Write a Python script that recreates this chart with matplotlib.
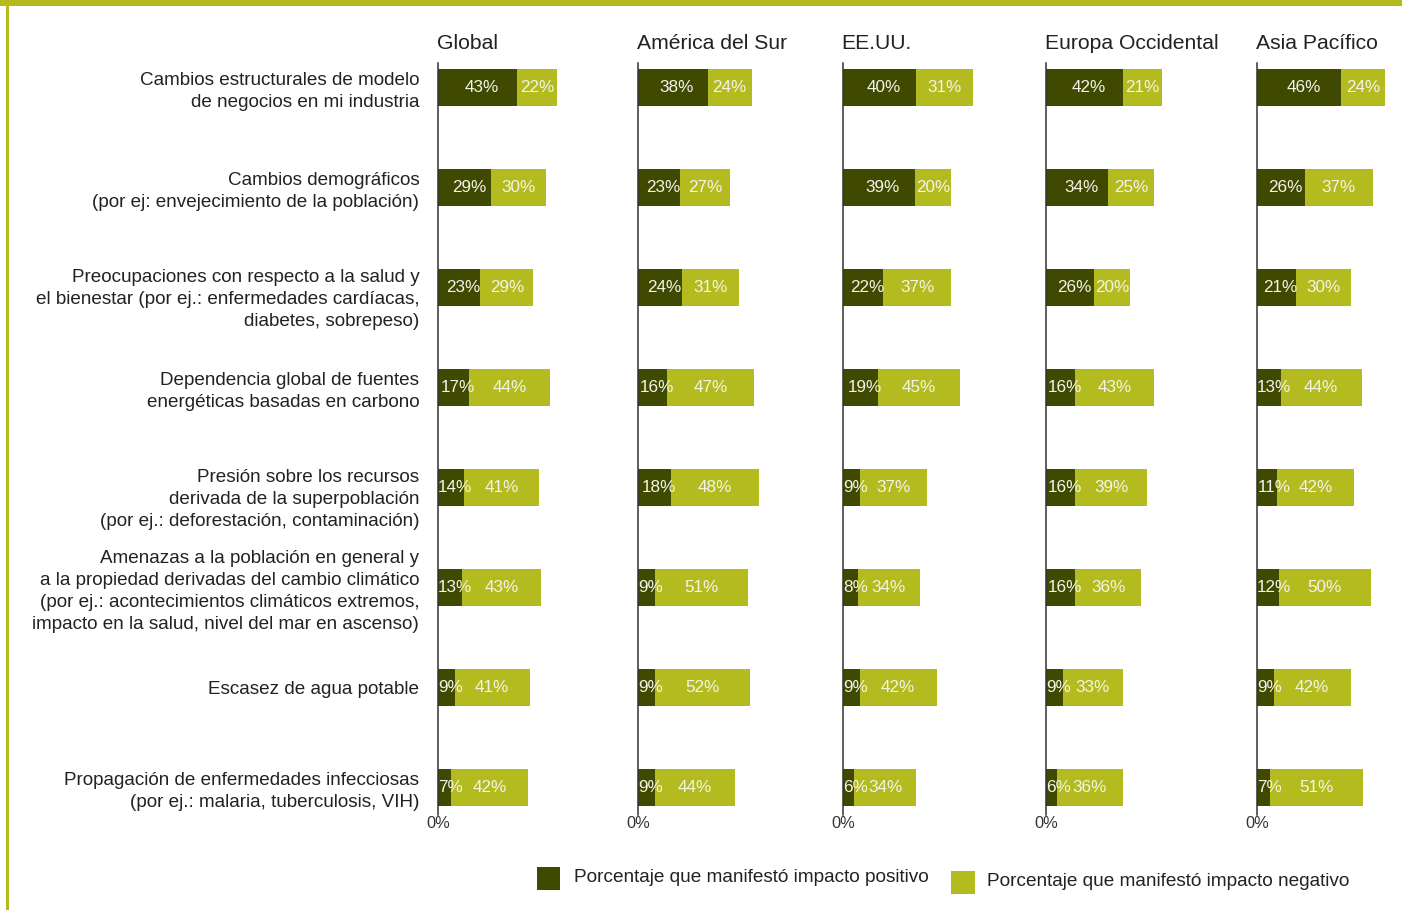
import matplotlib
matplotlib.use("Agg")
import matplotlib.pyplot as plt
from matplotlib.patches import Rectangle
from matplotlib.transforms import ScaledTranslation

plt.rcParams['font.family'] = ['Liberation Sans', 'DejaVu Sans']

categories = [
    "Cambios estructurales de modelo\nde negocios en mi industria",
    "Cambios demográficos\n(por ej: envejecimiento de la población)",
    "Preocupaciones con respecto a la salud y\nel bienestar (por ej.: enfermedades cardíacas,\ndiabetes, sobrepeso)",
    "Dependencia global de fuentes\nenergéticas basadas en carbono",
    "Presión sobre los recursos\nderivada de la superpoblación\n(por ej.: deforestación, contaminación)",
    "Amenazas a la población en general y\na la propiedad derivadas del cambio climático\n(por ej.: acontecimientos climáticos extremos,\nimpacto en la salud, nivel del mar en ascenso)",
    "Escasez de agua potable",
    "Propagación de enfermedades infecciosas\n(por ej.: malaria, tuberculosis, VIH)",
]

regions = ["Global", "América del Sur", "EE.UU.", "Europa Occidental", "Asia Pacífico"]

global_pos = [43, 29, 23, 17, 14, 13, 9, 7]
global_neg = [22, 30, 29, 44, 41, 43, 41, 42]
america_pos = [38, 23, 24, 16, 18, 9, 9, 9]
america_neg = [24, 27, 31, 47, 48, 51, 52, 44]
eeuu_pos = [40, 39, 22, 19, 9, 8, 9, 6]
eeuu_neg = [31, 20, 37, 45, 37, 34, 42, 34]
europa_pos = [42, 34, 26, 16, 16, 16, 9, 6]
europa_neg = [21, 25, 20, 43, 39, 36, 33, 36]
asia_pos = [46, 26, 21, 13, 11, 12, 9, 7]
asia_neg = [24, 37, 30, 44, 42, 50, 42, 51]

positive = [global_pos, america_pos, eeuu_pos, europa_pos, asia_pos]
negative = [global_neg, america_neg, eeuu_neg, europa_neg, asia_neg]

DARK = "#3f4a00"
LIGHT = "#b3bb1f"
BAND = "#b3bb1e"
LABEL_C = "#f4f4ea"

W, H = 1402, 910
fig = plt.figure(figsize=(W / 100, H / 100), dpi=100)

# frame decoration
fig.add_artist(Rectangle((0, 1 - 6 / H), 1, 6 / H, transform=fig.transFigure,
                         facecolor=BAND, edgecolor='none'))
fig.add_artist(Rectangle((6 / W, 0), 3 / W, 1, transform=fig.transFigure,
                         facecolor=BAND, edgecolor='none'))

lefts = [438, 638, 843, 1046, 1257]
top_px, bot_px = 63, 815
scale = 1.834
xmax = 76
width_px = xmax * scale

ypos = list(range(len(categories)))

for k, (region, pos, neg) in enumerate(zip(regions, positive, negative)):
    ax = fig.add_axes([lefts[k] / W, 1 - bot_px / H, width_px / W, (bot_px - top_px) / H])
    ax.barh(ypos, pos, height=0.37, color=DARK, edgecolor='none')
    ax.barh(ypos, neg, left=pos, height=0.37, color=LIGHT, edgecolor='none')
    for y, p, n in zip(ypos, pos, neg):
        minhalf = 9.4 if p >= 10 else 6.9
        ax.text(max(p / 2 + 2.3, minhalf), y, f"{p}%", ha='center', va='center',
                color=LABEL_C, fontsize=12.3)
        ax.text(p + n / 2, y, f"{n}%", ha='center', va='center',
                color=LABEL_C, fontsize=12.3)
    ax.set_xlim(0, xmax)
    ax.set_ylim(7.28, -0.24)
    for s in ['top', 'right', 'bottom']:
        ax.spines[s].set_visible(False)
    ax.spines['left'].set_color('#333333')
    ax.spines['left'].set_linewidth(1.1)
    ax.set_xticks([0])
    ax.set_xticklabels(["0%"], fontsize=11.8, color='#333333')
    ax.tick_params(axis='x', length=0, pad=1)
    ax.set_title(region, loc='left', fontsize=15.2, color='#222222', pad=10, x=-0.01)
    ax.set_yticks(ypos)
    if k == 0:
        labels = ax.set_yticklabels(categories, fontsize=13.6, color='#222222', linespacing=1.38)
        ax.tick_params(axis='y', length=0, pad=13.5)
        for lab, txt in zip(labels, categories):
            if txt.count("\n") == 2:
                lab.set_transform(lab.get_transform() +
                                  ScaledTranslation(0, -8 / 100, fig.dpi_scale_trans))
    else:
        ax.set_yticklabels([])
        ax.tick_params(axis='y', length=0)
    ax.patch.set_alpha(0)

# legend
fig.add_artist(Rectangle((537 / W, 1 - 890 / H), 23 / W, 23 / H, transform=fig.transFigure,
                         facecolor=DARK, edgecolor='none'))
fig.text(574 / W, 1 - 878 / H, "Porcentaje que manifestó impacto positivo",
         fontsize=13.7, color='#222222', va='center', ha='left')
fig.add_artist(Rectangle((951 / W, 1 - 894 / H), 24 / W, 23 / H, transform=fig.transFigure,
                         facecolor=LIGHT, edgecolor='none'))
fig.text(987 / W, 1 - 881 / H, "Porcentaje que manifestó impacto negativo",
         fontsize=13.7, color='#222222', va='center', ha='left')

fig.savefig("out.png", dpi=100)
